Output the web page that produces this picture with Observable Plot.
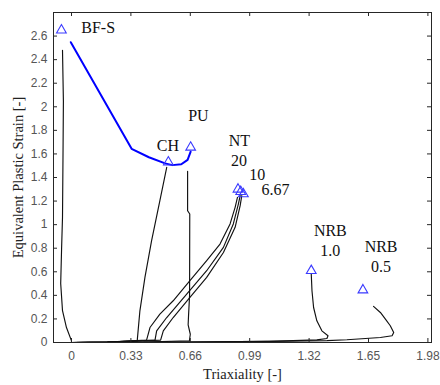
<!DOCTYPE html>
<html><head><meta charset="utf-8">
<script src="https://cdn.jsdelivr.net/npm/d3@7"></script>
<script src="https://cdn.jsdelivr.net/npm/@observablehq/plot@0.6"></script>
<style>body{margin:0;background:#fff}#chart{width:440px;height:385px}</style>
</head><body><div id="chart"></div>
<script>
// ---- tick labels ----
const xTicks = [0, 0.33, 0.66, 0.99, 1.32, 1.65, 1.98];
const xTickLabels = ["0", "0.33", "0.66", "0.99", "1.32", "1.65", "1.98"];
const yTicks = [0, 0.2, 0.4, 0.6, 0.8, 1, 1.2, 1.4, 1.6, 1.8, 2, 2.2, 2.4, 2.6];
const yTickLabels = ["0", "0.2", "0.4", "0.6", "0.8", "1", "1.2", "1.4", "1.6", "1.8", "2", "2.2", "2.4", "2.6"];
const xLabel = "Triaxiality [-]";
const yLabel = "Equivalent Plastic Strain [-]";

// ---- strain paths (black) ----
const bfsX = [0, 0, -0.028, -0.050, -0.060, -0.055, -0.050, -0.047, -0.045, -0.050];
const bfsY = [0, 0.014, 0.127, 0.27, 0.50, 0.80, 1.06, 1.63, 2.05, 2.48];
const chX = [0, 0.2, 0.365, 0.380, 0.408, 0.445, 0.491, 0.529];
const chY = [0, 0.003, 0.014, 0.269, 0.552, 0.864, 1.204, 1.486];
const puX = [0, 0.4, 0.655, 0.660, 0.648, 0.650, 0.656, 0.657, 0.645, 0.645];
const puY = [0, 0.003, 0.015, 0.07, 0.15, 0.22, 0.40, 1.09, 1.118, 1.452];
const nt20X = [0, 0.2, 0.417, 0.436, 0.491, 0.565, 0.658, 0.751, 0.825, 0.881, 0.909, 0.922];
const nt20Y = [0, 0.003, 0.020, 0.127, 0.241, 0.354, 0.524, 0.694, 0.835, 1.006, 1.147, 1.231];
const nt10X = [0, 0.2, 0.464, 0.473, 0.529, 0.640, 0.751, 0.844, 0.899, 0.927, 0.937];
const nt10Y = [0, 0.003, 0.020, 0.099, 0.212, 0.411, 0.609, 0.807, 1.006, 1.175, 1.246];
const nt667X = [0, 0.2, 0.495, 0.510, 0.565, 0.658, 0.751, 0.844, 0.909, 0.937, 0.946];
const nt667Y = [0, 0.003, 0.020, 0.099, 0.212, 0.382, 0.552, 0.764, 0.977, 1.161, 1.246];
const nrb10X = [0, 0.6, 1.1, 1.363, 1.419, 1.425, 1.391, 1.363, 1.345, 1.336, 1.332];
const nrb10Y = [0, 0.004, 0.010, 0.022, 0.034, 0.057, 0.099, 0.184, 0.297, 0.439, 0.581];
const nrb05X = [0, 0.6, 1.1, 1.42, 1.53, 1.716, 1.781, 1.790, 1.771, 1.744, 1.716, 1.678];
const nrb05Y = [0, 0.004, 0.010, 0.016, 0.023, 0.042, 0.057, 0.085, 0.142, 0.199, 0.255, 0.306];

// ---- BF-S fracture locus (blue) ----
const locusX = [-0.004, 0.334, 0.43, 0.52, 0.56, 0.61, 0.645, 0.662];
const locusY = [2.548, 1.643, 1.572, 1.52, 1.505, 1.512, 1.55, 1.62];

// ---- fracture points (triangles) ----
const markerName = ["BF-S", "CH", "PU", "NT20", "NT10", "NT6.67", "NRB1.0", "NRB0.5"];
const markerX = [-0.056, 0.538, 0.662, 0.925, 0.940, 0.955, 1.332, 1.619];
const markerY = [2.65, 1.53, 1.656, 1.30, 1.28, 1.26, 0.609, 0.445];

// ---- annotations ----
const labelText = ["BF-S", "PU", "CH", "NT", "20", "10", "6.67", "NRB", "1.0", "NRB", "0.5"];
const labelX = [0.148, 0.705, 0.536, 0.933, 0.931, 1.032, 1.133, 1.438, 1.437, 1.720, 1.720];
const labelY = [2.668, 1.922, 1.671, 1.715, 1.539, 1.424, 1.295, 0.950, 0.776, 0.814, 0.643];

const rows = (name, xs, ys) => xs.map((x, i) => ({series: name, x, y: ys[i]}));
const paths = [
  ...rows("BF-S", bfsX, bfsY), ...rows("CH", chX, chY), ...rows("PU", puX, puY),
  ...rows("NT20", nt20X, nt20Y), ...rows("NT10", nt10X, nt10Y), ...rows("NT6.67", nt667X, nt667Y),
  ...rows("NRB1.0", nrb10X, nrb10Y), ...rows("NRB0.5", nrb05X, nrb05Y)
];
const locus = rows("locus", locusX, locusY);
const markers = markerName.map((n, i) => ({name: n, x: markerX[i], y: markerY[i]}));
const labels = labelText.map((t, i) => ({t, x: labelX[i], y: labelY[i]}));

const W = 440, H = 385, mt = 12, mr = 9, mb = 43, ml = 53;
const pw = W - ml - mr, ph = H - mt - mb, tk = 4;
const axisCol = "#262626";

const chart = Plot.plot({
  width: W, height: H,
  marginTop: mt, marginRight: mr, marginBottom: mb, marginLeft: ml,
  style: {background: "#fff"},
  x: {domain: [-0.1, 2.0]},
  y: {domain: [0, 2.8]},
  marks: [
    Plot.line(paths, {x: "x", y: "y", z: "series", stroke: "#111", strokeWidth: 1.15}),
    Plot.line(locus, {x: "x", y: "y", stroke: "#0000ff", strokeWidth: 2}),
    Plot.dot(markers, {x: "x", y: "y", symbol: "triangle", r: 3.6, stroke: "#3a3aff", strokeWidth: 1.1, fill: "none"}),
    Plot.text(labels, {x: "x", y: "y", text: "t", fontFamily: "Liberation Serif", fontSize: 16, fill: "#111"}),
    Plot.tickX(xTicks, {x: d => d, insetTop: ph - tk, stroke: axisCol}),
    Plot.tickX(xTicks, {x: d => d, insetBottom: ph - tk, stroke: axisCol}),
    Plot.tickY(yTicks, {y: d => d, insetRight: pw - tk, stroke: axisCol}),
    Plot.tickY(yTicks, {y: d => d, insetLeft: pw - tk, stroke: axisCol}),
    Plot.frame({stroke: axisCol, strokeWidth: 1}),
    Plot.axisX({ticks: xTicks, tickSize: 0, tickPadding: 9, tickFormat: d => xTickLabels[xTicks.indexOf(d)],
      fontFamily: "Liberation Sans", fontSize: 12, color: "#555", label: null}),
    Plot.axisY({ticks: yTicks, tickSize: 0, tickPadding: 6, tickFormat: d => yTickLabels[yTicks.indexOf(d)],
      fontFamily: "Liberation Sans", fontSize: 12, color: "#555", label: null}),
    Plot.text([xLabel], {frameAnchor: "bottom", textAnchor: "middle", lineAnchor: "middle", dy: 32,
      fontFamily: "Liberation Serif", fontSize: 14.5, fill: "#222"}),
    Plot.text([yLabel], {frameAnchor: "left", textAnchor: "middle", lineAnchor: "middle", dx: -35, rotate: -90,
      fontFamily: "Liberation Serif", fontSize: 14.5, fill: "#222"})
  ]
});
document.getElementById("chart").appendChild(chart);
</script>
</body></html>
